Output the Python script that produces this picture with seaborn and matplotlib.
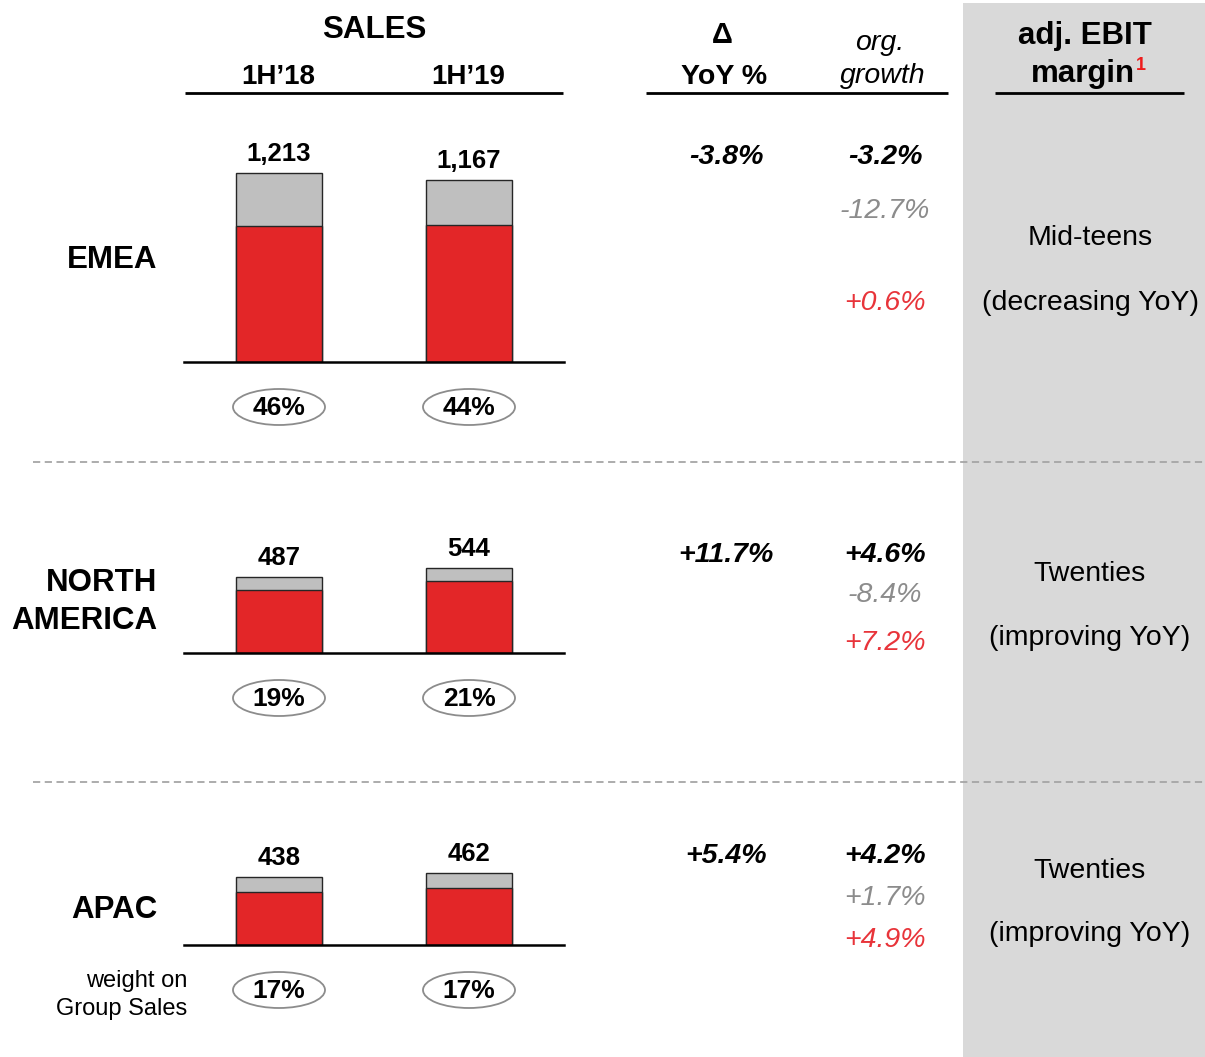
import matplotlib
matplotlib.use("Agg")
import matplotlib.pyplot as plt
from matplotlib.patches import Rectangle, Ellipse
import seaborn as sns

sns.set_style("white")
plt.rcParams['font.family'] = ['Liberation Sans', 'DejaVu Sans']
plt.rcParams['text.color'] = 'black'

# ---------------- data ----------------
periods = ["1H\u201918", "1H\u201919"]
regions = ["EMEA", "NORTH\nAMERICA", "APAC"]
totals_emea = [1213, 1167]
organic_emea = [873, 879]
totals_na = [487, 544]
organic_na = [404, 462]
totals_apac = [438, 462]
organic_apac = [340, 366]
weights_emea = ["46%", "44%"]
weights_na = ["19%", "21%"]
weights_apac = ["17%", "17%"]
yoy = ["-3.8%", "+11.7%", "+5.4%"]
org_growth = ["-3.2%", "+4.6%", "+4.2%"]
org_gray = ["-12.7%", "-8.4%", "+1.7%"]
org_red = ["+0.6%", "+7.2%", "+4.9%"]
ebit_level = ["Mid-teens", "Twenties", "Twenties"]
ebit_trend = ["(decreasing YoY)", "(improving YoY)", "(improving YoY)"]

totals = [totals_emea, totals_na, totals_apac]
organic = [organic_emea, organic_na, organic_apac]
weights = [weights_emea, weights_na, weights_apac]

# ---------------- style ----------------
W, H = 1205, 1057
RED = "#e32628"
GREY_BAR = "#bfbfbf"
GREY_TXT = "#8c8c8c"
RED_TXT = "#e8343a"
PANEL = "#d9d9d9"
UPP = 1213 / 189.0  # value units per pixel

fig = plt.figure(figsize=(W / 100, H / 100), dpi=100)
fig.patch.set_facecolor("white")

ov = fig.add_axes([0, 0, 1, 1], zorder=0)
ov.set_xlim(0, W)
ov.set_ylim(H, 0)
ov.axis("off")

# grey EBIT panel
ov.add_patch(Rectangle((963, 3), W - 963, H - 3, fc=PANEL, ec="none", zorder=0))

# dashed separators
for yy in (462, 782):
    ov.plot([33, W], [yy, yy], color="#a6a6a6", lw=1.3, ls=(0, (4, 2.5)), zorder=1)

# header underlines
for x0, x1 in ((185, 563), (646, 948), (995, 1184)):
    ov.plot([x0, x1], [93, 93], color="black", lw=2, solid_capstyle="butt", zorder=2)

# header texts
ov.text(374, 38, "SALES", ha="center", va="baseline", fontsize=22.5, fontweight="bold")
ov.text(722, 43, "\u0394", ha="center", va="baseline", fontsize=21, fontweight="bold")
ov.text(724, 84, "YoY %", ha="center", va="baseline", fontsize=20.5, fontweight="bold")
ov.text(880, 50, "org.", ha="center", va="baseline", fontsize=20.5, style="italic")
ov.text(883, 83, "growth", ha="center", va="baseline", fontsize=20.5, style="italic")
ov.text(1085, 44, "adj. EBIT", ha="center", va="baseline", fontsize=22.5, fontweight="bold")
ov.text(1135, 82, "margin", ha="right", va="baseline", fontsize=22.5, fontweight="bold")
ov.text(1136, 70, "1", ha="left", va="baseline", fontsize=13, fontweight="bold", color="#ee1c1c")

baselines = [362, 653, 945]
label_base = [[268], [591, 629], [918]]
yoy_base = [164, 562, 863]
org_base = [(164, 218, 310), (562, 602, 650), (863, 905, 947)]
ebit_base = [(245, 310), (581, 645), (878, 941)]

for k in range(3):
    yb = baselines[k]
    hpx = 240
    ax = fig.add_axes([184 / W, (H - yb) / H, 380 / W, hpx / H], zorder=3)
    ax.patch.set_alpha(0)
    sns.barplot(x=periods, y=totals[k], color=GREY_BAR, saturation=1, width=0.453,
                edgecolor="#262626", linewidth=1, ax=ax)
    sns.barplot(x=periods, y=organic[k], color=RED, saturation=1, width=0.453,
                edgecolor="#262626", linewidth=1, ax=ax)
    ax.set_xlim(-0.5, 1.5)
    ax.set_ylim(0, hpx * UPP)
    for s in ("top", "right", "left"):
        ax.spines[s].set_visible(False)
    ax.spines["bottom"].set_linewidth(1.8)
    ax.spines["bottom"].set_color("black")
    ax.set_xticks([])
    ax.set_yticks([])
    ax.set_xlabel("")
    ax.set_ylabel("")
    for i, v in enumerate(totals[k]):
        ax.annotate(f"{v:,}", xy=(i, v), xytext=(0, 12), textcoords="offset pixels",
                    ha="center", va="baseline", fontsize=18.5, fontweight="bold",
                    annotation_clip=False)
    # period headers (once, above first region)
    if k == 0:
        for i, p in enumerate(periods):
            xpx = ax.transData.transform((i, 0))[0]
            ov.text(xpx - 1, 84, p, ha="center", va="baseline", fontsize=20,
                    fontweight="bold")
    # weight ellipses
    for i, w in enumerate(weights[k]):
        xpx = ax.transData.transform((i, 0))[0]
        cy = yb + 45
        ov.add_patch(Ellipse((xpx, cy), 92, 36, fc="white", ec="#8c8c8c", lw=1.3, zorder=4))
        ov.text(xpx, cy + 8, w, ha="center", va="baseline", fontsize=19,
                fontweight="bold", zorder=5)
    # region label
    for line, yl in zip(regions[k].split("\n"), label_base[k]):
        ov.text(157, yl, line, ha="right", va="baseline", fontsize=22.5, fontweight="bold")
    # YoY
    ov.text(726, yoy_base[k], yoy[k], ha="center", va="baseline", fontsize=20.5,
            fontweight="bold", style="italic")
    ob = org_base[k]
    ov.text(885, ob[0], org_growth[k], ha="center", va="baseline", fontsize=20.5,
            fontweight="bold", style="italic")
    ov.text(885, ob[1], org_gray[k], ha="center", va="baseline", fontsize=20.5,
            style="italic", color=GREY_TXT)
    ov.text(885, ob[2], org_red[k], ha="center", va="baseline", fontsize=20.5,
            style="italic", color=RED_TXT)
    eb = ebit_base[k]
    ov.text(1090, eb[0], ebit_level[k], ha="center", va="baseline", fontsize=20.5)
    ov.text(1090, eb[1], ebit_trend[k], ha="center", va="baseline", fontsize=20.5)

ov.text(187, 987, "weight on", ha="right", va="baseline", fontsize=17)
ov.text(187, 1015, "Group Sales", ha="right", va="baseline", fontsize=17)

fig.savefig("out.png", dpi=100)
